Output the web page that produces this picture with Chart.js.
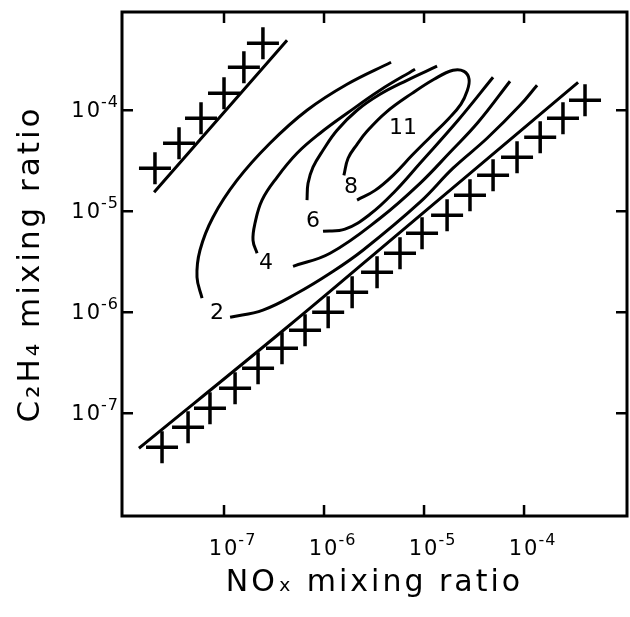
<!DOCTYPE html>
<html>
<head>
<meta charset="utf-8">
<script src="https://cdn.jsdelivr.net/npm/chart.js@4"></script>
<style>
  html, body { margin: 0; padding: 0; background: #fff; }
  canvas { display: block; }
</style>
</head>
<body>
<canvas id="chart" width="630" height="617"></canvas>
<script>
// axis ticks (decades only), label = base + exponent
const xTickValues = [1e-7, 1e-6, 1e-5, 1e-4]
const xTickExponents = ["-7", "-6", "-5", "-4"]
const yTickValues = [1e-7, 1e-6, 1e-5, 1e-4]
const yTickExponents = ["-7", "-6", "-5", "-4"]

// boundary lines [NOx, C2H4]
const upperBoundary = [[2.00e-8, 1.54e-5], [4.27e-7, 4.93e-4]]
const lowerBoundary = [[1.41e-8, 4.50e-8], [4.27e-7, 7.10e-7], [5.75e-6, 6.19e-6], [3.47e-4, 1.89e-4]]

// hatch crosses along the boundaries
const upperCrosses = [
  [2.04e-8, 2.67e-5], [3.55e-8, 4.71e-5], [5.89e-8, 8.34e-5],
  [1.00e-7, 1.47e-4], [1.58e-7, 2.67e-4], [2.45e-7, 4.60e-4]
]
const lowerCrosses = [
  [2.40e-8, 4.60e-8], [4.37e-8, 7.26e-8], [7.24e-8, 1.12e-7], [1.29e-7, 1.77e-7],
  [2.19e-7, 2.79e-7], [3.80e-7, 4.41e-7], [6.46e-7, 6.64e-7], [1.10e-6, 1.00e-6],
  [1.91e-6, 1.58e-6], [3.39e-6, 2.49e-6], [5.75e-6, 3.84e-6], [9.55e-6, 6.05e-6],
  [1.70e-5, 9.12e-6], [2.88e-5, 1.44e-5], [4.90e-5, 2.27e-5], [8.51e-5, 3.43e-5],
  [1.45e-4, 5.41e-5], [2.45e-4, 8.34e-5], [4.07e-4, 1.26e-4]
]

// contour branches
const c2Upper = [
  [4.68e-6, 2.99e-4], [1.70e-6, 1.81e-4], [6.76e-7, 1.00e-4], [2.88e-7, 4.71e-5],
  [1.35e-7, 2.03e-5], [7.76e-8, 8.73e-6], [5.75e-8, 4.11e-6], [5.37e-8, 2.22e-6], [6.03e-8, 1.38e-6]
]
const c2Lower = [
  [1.15e-7, 8.91e-7], [2.45e-7, 1.05e-6], [5.37e-7, 1.54e-6], [1.15e-6, 2.43e-6],
  [2.45e-6, 4.11e-6], [9.12e-6, 1.23e-5], [1.95e-5, 2.67e-5], [4.27e-5, 5.28e-5],
  [9.12e-5, 1.12e-4], [1.35e-4, 1.77e-4]
]
const c4Upper = [
  [8.13e-6, 2.55e-4], [3.63e-6, 1.58e-4], [1.70e-6, 9.33e-5], [9.12e-7, 5.92e-5],
  [5.37e-7, 3.75e-5], [3.39e-7, 2.17e-5], [2.40e-7, 1.29e-5], [2.04e-7, 7.60e-6],
  [1.95e-7, 5.16e-6], [2.14e-7, 3.84e-6]
]
const c4Lower = [
  [4.90e-7, 2.85e-6], [1.15e-6, 3.84e-6], [3.63e-6, 8.53e-6], [9.12e-6, 1.89e-5],
  [1.82e-5, 3.84e-5], [3.47e-5, 7.60e-5], [7.24e-5, 1.94e-4]
]
const c6Upper = [
  [1.35e-5, 2.73e-4], [6.76e-6, 1.98e-4], [3.63e-6, 1.44e-4], [2.14e-6, 1.00e-4],
  [1.35e-6, 6.34e-5], [9.77e-7, 4.02e-5], [7.76e-7, 2.73e-5], [6.92e-7, 1.89e-5], [6.76e-7, 1.29e-5]
]
const c6Lower = [
  [9.77e-7, 6.34e-6], [1.62e-6, 6.64e-6], [2.88e-6, 9.33e-6], [5.13e-6, 1.58e-5],
  [9.12e-6, 2.99e-5], [2.19e-5, 7.96e-5], [4.90e-5, 2.12e-4]
]
const c8Loop = [
  [1.58e-6, 2.27e-5], [1.74e-6, 3.35e-5], [2.14e-6, 4.60e-5], [2.69e-6, 6.19e-5],
  [4.17e-6, 9.55e-5], [7.59e-6, 1.47e-4], [1.26e-5, 2.03e-4], [1.95e-5, 2.49e-4],
  [2.51e-5, 2.43e-4], [2.82e-5, 2.03e-4], [2.69e-5, 1.54e-4], [2.34e-5, 1.15e-4],
  [1.78e-5, 8.34e-5], [1.15e-5, 5.41e-5], [7.59e-6, 3.58e-5], [4.90e-6, 2.27e-5],
  [3.24e-6, 1.61e-5], [2.14e-6, 1.29e-5]
]

// contour labels and where they sit
const contourLabels = ["2", "4", "6", "8", "11"]
const labelAnchors = [
  [8.51e-8, 9.77e-7], [2.63e-7, 3.05e-6], [7.76e-7, 7.96e-6], [1.86e-6, 1.73e-5], [6.17e-6, 6.64e-5]
]

const toPoints = (arr) => arr.map(([x, y]) => ({ x, y }))

const lineSet = (arr) => ({
  data: toPoints(arr),
  showLine: true,
  borderColor: "#000",
  borderWidth: 3,
  pointRadius: 0,
  tension: 0.4,
  fill: false
})

const crossSet = (arr) => ({
  data: toPoints(arr),
  showLine: false,
  pointStyle: "cross",
  pointRadius: 16,
  borderColor: "#000",
  borderWidth: 3.5
})

const FONT = '"DejaVu Sans"'

// letter spacing only for the axis titles
const spacingPlugin = {
  id: "spacing",
  beforeDraw(chart) { chart.ctx.letterSpacing = "3px" },
  beforeDatasetsDraw(chart) { chart.ctx.letterSpacing = "0px" }
}

// 10 with a raised exponent
function drawPower(ctx, exp, x, baseline, align) {
  ctx.font = "21px " + FONT
  ctx.letterSpacing = "2px"
  const wBase = ctx.measureText("10").width
  ctx.font = "16px " + FONT
  ctx.letterSpacing = "1px"
  const wExp = ctx.measureText(exp).width
  // align: "center" centres the "10" on x, "right" ends the label at x
  const left = align === "right" ? x - wBase - wExp : x - wBase / 2
  ctx.font = "21px " + FONT
  ctx.letterSpacing = "2px"
  ctx.fillText("10", left, baseline)
  ctx.font = "16px " + FONT
  ctx.letterSpacing = "1px"
  ctx.fillText(exp, left + wBase - 1, baseline - 10)
}

// box frame, inward ticks, tick labels, contour labels
const framePlugin = {
  id: "frame",
  afterDatasetsDraw(chart) {
    const { ctx, chartArea: a, scales: { x, y } } = chart
    ctx.save()
    ctx.strokeStyle = "#000"
    ctx.lineWidth = 3
    ctx.strokeRect(a.left, a.top, a.right - a.left, a.bottom - a.top)
    ctx.lineWidth = 2.5
    ctx.beginPath()
    x.ticks.forEach((t) => {
      const px = x.getPixelForValue(t.value)
      ctx.moveTo(px, a.bottom); ctx.lineTo(px, a.bottom - 11)
      ctx.moveTo(px, a.top); ctx.lineTo(px, a.top + 11)
    })
    y.ticks.forEach((t) => {
      const py = y.getPixelForValue(t.value)
      ctx.moveTo(a.left, py); ctx.lineTo(a.left + 11, py)
      ctx.moveTo(a.right, py); ctx.lineTo(a.right - 11, py)
    })
    ctx.stroke()

    ctx.fillStyle = "#000"
    ctx.textAlign = "left"
    ctx.textBaseline = "alphabetic"
    x.ticks.forEach((t, i) => {
      drawPower(ctx, xTickExponents[i], x.getPixelForValue(t.value), a.bottom + 39, "center")
    })
    y.ticks.forEach((t, i) => {
      drawPower(ctx, yTickExponents[i], a.left - 2, y.getPixelForValue(t.value) + 7, "right")
    })

    ctx.letterSpacing = "0px"
    ctx.font = "22px " + FONT
    ctx.textAlign = "center"
    ctx.textBaseline = "middle"
    contourLabels.forEach((txt, i) => {
      const [vx, vy] = labelAnchors[i]
      ctx.fillText(txt, x.getPixelForValue(vx), y.getPixelForValue(vy))
    })
    ctx.restore()
  }
}

new Chart(document.getElementById("chart"), {
  type: "scatter",
  data: {
    datasets: [
      lineSet(upperBoundary),
      lineSet(lowerBoundary),
      crossSet(upperCrosses),
      crossSet(lowerCrosses),
      lineSet(c2Upper),
      lineSet(c2Lower),
      lineSet(c4Upper),
      lineSet(c4Lower),
      lineSet(c6Upper),
      lineSet(c6Lower),
      lineSet(c8Loop)
    ]
  },
  options: {
    responsive: false,
    animation: false,
    devicePixelRatio: 1,
    layout: { autoPadding: false, padding: { left: 0, right: 3, top: 12, bottom: 0 } },
    plugins: {
      legend: { display: false },
      tooltip: { enabled: false }
    },
    scales: {
      x: {
        type: "logarithmic",
        min: 9.55e-9,
        max: 1.07e-3,
        afterBuildTicks: (scale) => { scale.ticks = xTickValues.map((v) => ({ value: v })) },
        afterFit: (scale) => { scale.height = 101 },
        grid: { display: false, drawTicks: false },
        border: { display: false },
        ticks: { display: false },
        title: {
          display: true,
          text: "NOₓ mixing ratio",
          color: "#000",
          font: { family: "DejaVu Sans", size: 30 },
          padding: { top: 0, bottom: 16 }
        }
      },
      y: {
        type: "logarithmic",
        min: 9.6e-9,
        max: 9.4e-4,
        afterBuildTicks: (scale) => { scale.ticks = yTickValues.map((v) => ({ value: v })) },
        afterFit: (scale) => { scale.width = 122 },
        grid: { display: false, drawTicks: false },
        border: { display: false },
        ticks: { display: false },
        title: {
          display: true,
          text: "C₂H₄ mixing ratio",
          color: "#000",
          font: { family: "DejaVu Sans", size: 31 },
          padding: { top: 12, bottom: 0 }
        }
      }
    }
  },
  plugins: [spacingPlugin, framePlugin]
})
</script>
</body>
</html>
